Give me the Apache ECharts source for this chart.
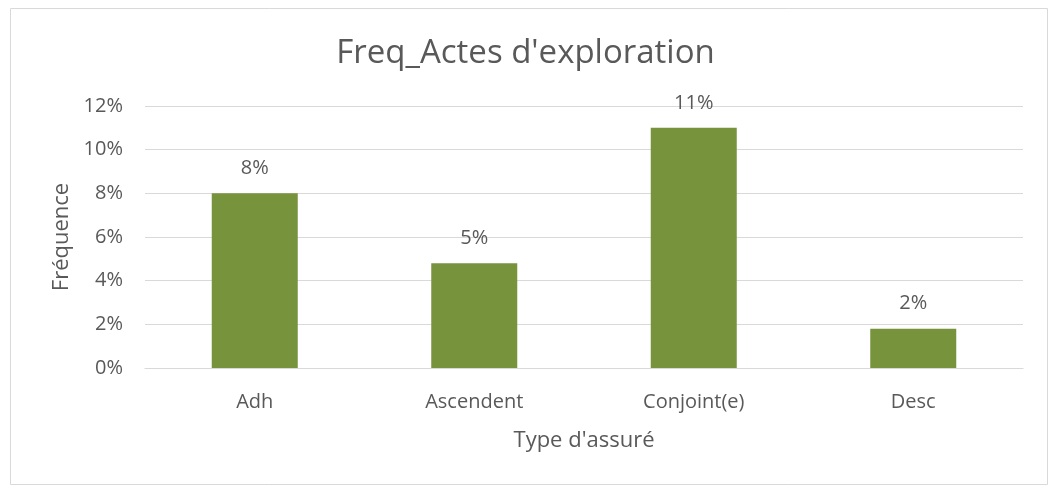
<!DOCTYPE html>
<html>
<head>
<meta charset="utf-8">
<script src="https://cdn.jsdelivr.net/npm/echarts@6/dist/echarts.min.js"></script>
<style>
  html, body { margin: 0; padding: 0; background: #fff; }
  #chart { width: 1051px; height: 488px; }
</style>
</head>
<body>
<div id="chart"></div>
<script>
// données
var categories = ['Adh', 'Ascendent', 'Conjoint(e)', 'Desc'];
var frequences = [0.080, 0.048, 0.110, 0.018];
var yTicks = [0, 0.02, 0.04, 0.06, 0.08, 0.10, 0.12];

var textColor = '#595959';
var font = 'Open Sans';

var myChart = echarts.init(document.getElementById('chart'));

var option = {
    backgroundColor: '#fff',
    animation: false,
    title: {
        text: "Freq_Actes d'exploration",
        left: 'center',
        top: 32,
        textStyle: {
            color: textColor,
            fontFamily: font,
            fontSize: 33,
            fontWeight: 'normal'
        }
    },
    // cadre du graphique
    graphic: [{
        type: 'rect',
        shape: { x: 10.5, y: 8.5, width: 1037, height: 476 },
        style: { fill: 'none', stroke: '#d9d9d9', lineWidth: 1 },
        silent: true
    }],
    grid: {
        left: 145,
        right: 28,
        top: 106,
        bottom: 120
    },
    xAxis: {
        type: 'category',
        data: categories,
        name: "Type d'assuré",
        nameLocation: 'middle',
        nameGap: 62,
        nameTextStyle: { color: textColor, fontFamily: font, fontSize: 22 },
        axisLine: { lineStyle: { color: '#d9d9d9' } },
        axisTick: { show: false },
        axisLabel: { color: textColor, fontFamily: font, fontSize: 20, margin: 24 }
    },
    yAxis: {
        type: 'value',
        min: yTicks[0],
        max: yTicks[yTicks.length - 1],
        interval: 0.02,
        name: 'Fréquence',
        nameLocation: 'middle',
        nameGap: 72,
        nameTextStyle: { color: textColor, fontFamily: font, fontSize: 22 },
        axisLine: { show: false },
        axisTick: { show: false },
        axisLabel: {
            color: textColor,
            fontFamily: font,
            fontSize: 20,
            margin: 22,
            formatter: function(v) {
                return Math.round(v * 100) + '%';
            }
        },
        splitLine: { lineStyle: { color: '#d9d9d9' } }
    },
    series: [{
        type: 'bar',
        data: frequences,
        barWidth: 86,
        itemStyle: { color: '#77933c' },
        label: {
            show: true,
            position: 'top',
            distance: 15,
            color: textColor,
            fontFamily: font,
            fontSize: 20,
            formatter: function(p) {
                return Math.round(p.value * 100) + '%';
            }
        }
    }]
};

myChart.setOption(option);
</script>
</body>
</html>
